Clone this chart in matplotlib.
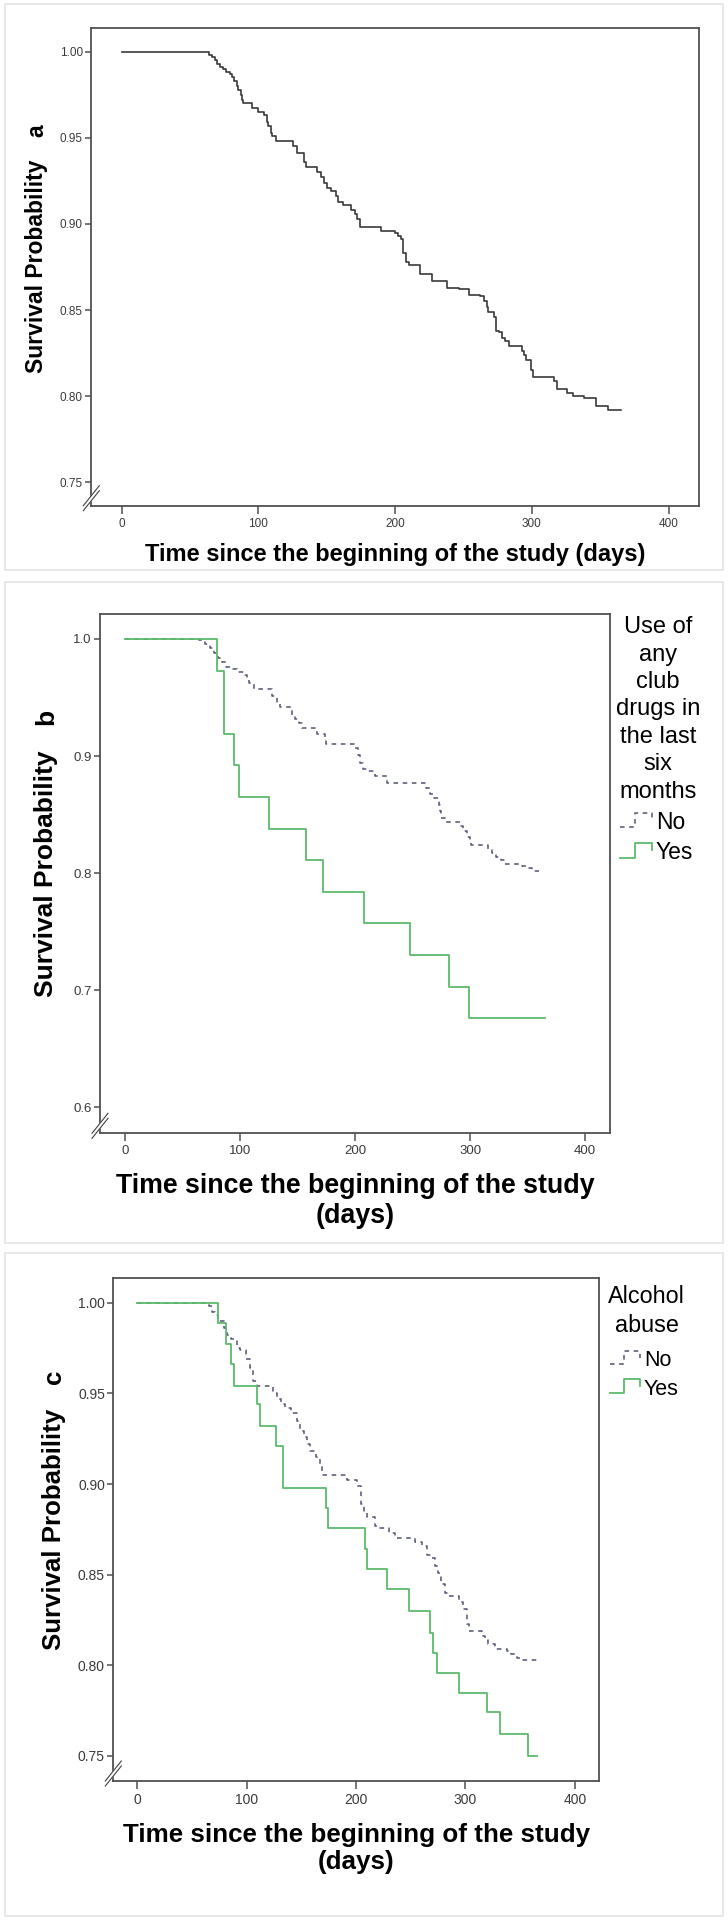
import numpy as np
import matplotlib
matplotlib.use("Agg")
import matplotlib.pyplot as plt
from matplotlib.lines import Line2D
from matplotlib.legend_handler import HandlerLine2D
from matplotlib.patches import Rectangle

plt.rcParams['font.family'] = ['Liberation Sans', 'DejaVu Sans']

# ---- data (days, survival) ----
# a: whole sample
a_days = [0, 64, 66, 68, 70, 72, 74, 76, 79, 81, 82, 84, 85, 87, 88, 89, 95, 100,
          104, 106, 107, 109, 110, 113, 125, 128, 133, 135, 143, 146, 148, 150,
          153, 157, 158, 162, 168, 171, 172, 174, 190, 200, 202, 204, 206, 208,
          210, 218, 227, 238, 247, 254, 262, 265, 267, 268, 272, 274, 276, 278,
          280, 283, 293, 294, 296, 299, 301, 316, 318, 326, 330, 338, 347, 356]
a_surv = [1.000, 0.998, 0.997, 0.995, 0.993, 0.991, 0.990, 0.988, 0.987, 0.985,
          0.983, 0.980, 0.978, 0.975, 0.972, 0.970, 0.967, 0.965, 0.963, 0.959,
          0.957, 0.953, 0.951, 0.948, 0.945, 0.941, 0.936, 0.933, 0.930, 0.927,
          0.924, 0.921, 0.919, 0.916, 0.913, 0.911, 0.908, 0.906, 0.903, 0.898,
          0.896, 0.895, 0.893, 0.891, 0.883, 0.878, 0.876, 0.871, 0.867, 0.863,
          0.862, 0.859, 0.858, 0.855, 0.852, 0.849, 0.846, 0.838, 0.837, 0.834,
          0.832, 0.829, 0.826, 0.824, 0.821, 0.815, 0.811, 0.809, 0.804, 0.802,
          0.800, 0.799, 0.794, 0.792]
a_end = 365

# b: use of any club drugs in the last six months
b_no_days = [0, 64, 70, 74, 77, 81, 84, 88, 93, 97, 104, 106, 108, 112, 128, 132,
             135, 145, 148, 151, 154, 167, 174, 175, 200, 203, 204, 207, 210, 217,
             228, 262, 265, 269, 273, 274, 275, 278, 291, 294, 297, 300, 301, 316,
             319, 323, 327, 330, 345, 349, 354]
b_no_surv = [1.000, 0.999, 0.996, 0.992, 0.988, 0.984, 0.980, 0.976, 0.974, 0.972,
             0.969, 0.965, 0.962, 0.957, 0.951, 0.945, 0.942, 0.935, 0.932, 0.928,
             0.924, 0.919, 0.915, 0.910, 0.907, 0.901, 0.894, 0.889, 0.887, 0.883,
             0.877, 0.873, 0.868, 0.864, 0.858, 0.853, 0.847, 0.844, 0.840, 0.836,
             0.831, 0.827, 0.824, 0.821, 0.817, 0.814, 0.811, 0.808, 0.806, 0.804,
             0.802]
b_no_end = 360
b_yes_days = [0, 80, 86, 95, 99, 125, 157, 172, 208, 248, 282, 299]
b_yes_surv = [1.000, 0.973, 0.919, 0.892, 0.865, 0.838, 0.811, 0.784, 0.757,
              0.730, 0.703, 0.676]
b_yes_end = 365

# c: alcohol abuse
c_no_days = [0, 65, 68, 71, 74, 79, 82, 86, 91, 94, 99, 103, 106, 109, 124, 128,
             131, 135, 140, 146, 149, 152, 155, 158, 163, 167, 169, 192, 201, 204,
             207, 210, 217, 220, 230, 236, 254, 260, 265, 269, 272, 275, 278, 281,
             283, 294, 298, 301, 303, 315, 318, 321, 327, 338, 342, 347, 350]
c_no_surv = [1.000, 0.998, 0.995, 0.993, 0.990, 0.986, 0.982, 0.980, 0.975, 0.974,
             0.969, 0.964, 0.957, 0.954, 0.950, 0.947, 0.944, 0.942, 0.939, 0.935,
             0.929, 0.926, 0.922, 0.918, 0.915, 0.911, 0.905, 0.902, 0.899, 0.889,
             0.885, 0.882, 0.877, 0.876, 0.873, 0.870, 0.868, 0.866, 0.861, 0.859,
             0.855, 0.851, 0.845, 0.840, 0.838, 0.835, 0.831, 0.823, 0.819, 0.816,
             0.814, 0.812, 0.809, 0.808, 0.806, 0.804, 0.803]
c_no_end = 365
c_yes_days = [0, 74, 81, 86, 88, 109, 112, 127, 133, 172, 174, 208, 210, 228, 248,
              268, 270, 274, 294, 320, 332, 357]
c_yes_surv = [1.000, 0.989, 0.977, 0.966, 0.954, 0.944, 0.932, 0.921, 0.898, 0.887,
              0.876, 0.864, 0.853, 0.842, 0.830, 0.818, 0.807, 0.796, 0.785, 0.774,
              0.762, 0.750]
c_yes_end = 365

x_ticks = [0, 100, 200, 300, 400]
group_labels = ['No', 'Yes']

W, H = 728, 1920
fig = plt.figure(figsize=(W / 100, H / 100), dpi=100)
fig.patch.set_facecolor('white')

# faint card borders
for top, bot in [(4, 570), (582, 1243), (1253, 1916)]:
    fig.patches.append(Rectangle((5 / W, 1 - bot / H), 718 / W, (bot - top) / H,
                                 transform=fig.transFigure, fill=False,
                                 edgecolor='#e4e4e4', linewidth=1.2))


def px_axes(l, t, r, b):
    return fig.add_axes([l / W, 1 - b / H, (r - l) / W, (b - t) / H])


def km(days, surv, end):
    return list(days) + [end], list(surv) + [surv[-1]]


class StepHandler(HandlerLine2D):
    def create_artists(self, legend, orig_handle, xdescent, ydescent,
                       width, height, fontsize, trans):
        xs = np.array([0.0, 0.45, 0.45, 0.95, 0.95]) * width - xdescent
        ys = np.array([0.1, 0.1, 1.0, 1.0, 0.55]) * height - ydescent
        line = Line2D(xs, ys)
        self.update_prop(line, orig_handle, legend)
        line.set_transform(trans)
        return [line]


def style(ax, xlim, ylim, yticks, yfmt, fs):
    ax.set_xlim(xlim)
    ax.set_ylim(ylim)
    ax.set_xticks(x_ticks)
    ax.set_yticks(yticks)
    ax.set_yticklabels([yfmt % v for v in yticks])
    for s in ax.spines.values():
        s.set_color('#505050')
        s.set_linewidth(1.3)
    ax.tick_params(direction='out', colors='#505050', labelcolor='#3a3a3a',
                   labelsize=fs, width=1.1)
    ax.tick_params(axis='y', length=4.5, pad=1.5)
    ax.tick_params(axis='x', length=5.5, pad=3)
    # axis break marks at the bottom of the y axis
    pos = ax.get_position()
    wpx, hpx = pos.width * W, pos.height * H
    y0 = 7.5 / hpx
    dx, dy = 8 / wpx, 10 / hpx
    ax.plot([-dx, dx], [y0 - dy, y0 + dy], transform=ax.transAxes,
            color='white', lw=3, clip_on=False, zorder=5)
    for off in (-2.5, 2.5):
        ax.plot([-dx, dx], [y0 - dy + off / hpx, y0 + dy + off / hpx],
                transform=ax.transAxes, color='#404040', lw=0.8,
                clip_on=False, zorder=6)


def legend(ax, title, title_xy, title_ls, entry_xy, fs, tfs, spacing):
    fig.text(title_xy[0] / W, 1 - title_xy[1] / H, title, ha='center',
             va='center', multialignment='center', fontsize=tfs,
             linespacing=title_ls, color='black')
    ax.legend(group_labels, loc='upper left',
              bbox_to_anchor=(entry_xy[0] / W, 1 - entry_xy[1] / H),
              bbox_transform=fig.transFigure, frameon=False, fontsize=fs,
              handlelength=1.45, handletextpad=0.12, labelspacing=spacing,
              borderpad=0, borderaxespad=0,
              handler_map={Line2D: StepHandler()})


NO_COLOR = '#4f5472'
YES_COLOR = '#5cbb6b'
NO_DASH = (3, 3)
BOLD = dict(fontweight='bold', color='black')

# ---- panel a ----
ax = px_axes(91.3, 27.7, 699, 505.7)
x, y = km(a_days, a_surv, a_end)
ax.step(x, y, where='post', color='#3a3a3a', lw=1.2)
style(ax, (-22.2, 422.2), (0.7364, 1.0139), [0.75, 0.80, 0.85, 0.90, 0.95, 1.00],
      '%.2f', 8.5)
fig.text(37 / W, 1 - 266.6 / H, 'Survival Probability', rotation=90,
         ha='center', va='center', fontsize=16.5, **BOLD)
fig.text(37 / W, 1 - 130.6 / H, 'a', rotation=90, ha='center', va='center',
         fontsize=16.5, **BOLD)
fig.text(395 / W, 1 - 554 / H, 'Time since the beginning of the study (days)',
         ha='center', va='center', fontsize=17, **BOLD)

# ---- panel b ----
ax = px_axes(100, 614, 610, 1133.3)
x, y = km(b_no_days, b_no_surv, b_no_end)
ax.step(x, y, where='post', color=NO_COLOR, lw=1.1, dashes=NO_DASH)
x, y = km(b_yes_days, b_yes_surv, b_yes_end)
ax.step(x, y, where='post', color=YES_COLOR, lw=1.3)
style(ax, (-21.7, 421.7), (0.5778, 1.0213), [0.6, 0.7, 0.8, 0.9, 1.0], '%.1f', 9.5)
legend(ax, 'Use of\nany\nclub\ndrugs in\nthe last\nsix\nmonths', (658, 709.4),
       1.32, (620, 811), 16.5, 17, 0.31)
fig.text(46 / W, 1 - 873.5 / H, 'Survival Probability', rotation=90,
         ha='center', va='center', fontsize=19, **BOLD)
fig.text(46 / W, 1 - 717 / H, 'b', rotation=90, ha='center', va='center',
         fontsize=19, **BOLD)
fig.text(355 / W, 1 - 1201 / H, 'Time since the beginning of the study\n(days)',
         ha='center', va='center', fontsize=19.3, linespacing=1.2, **BOLD)

# ---- panel c ----
ax = px_axes(113.3, 1277.7, 599.3, 1781)
x, y = km(c_no_days, c_no_surv, c_no_end)
ax.step(x, y, where='post', color=NO_COLOR, lw=1.1, dashes=NO_DASH)
x, y = km(c_yes_days, c_yes_surv, c_yes_end)
ax.step(x, y, where='post', color=YES_COLOR, lw=1.3)
style(ax, (-22.1, 422.4), (0.7362, 1.0138), [0.75, 0.80, 0.85, 0.90, 0.95, 1.00],
      '%.2f', 10)
legend(ax, 'Alcohol\nabuse', (646.7, 1311), 1.28, (610, 1350), 15.5, 16.8, 0.35)
fig.text(53.5 / W, 1 - 1529 / H, 'Survival Probability', rotation=90,
         ha='center', va='center', fontsize=18.6, **BOLD)
fig.text(53.5 / W, 1 - 1376.6 / H, 'c', rotation=90, ha='center', va='center',
         fontsize=18.6, **BOLD)
fig.text(356.3 / W, 1 - 1848.5 / H, 'Time since the beginning of the study\n(days)',
         ha='center', va='center', fontsize=18.7, linespacing=1.2, **BOLD)

fig.savefig('out.png', dpi=100, facecolor='white')
